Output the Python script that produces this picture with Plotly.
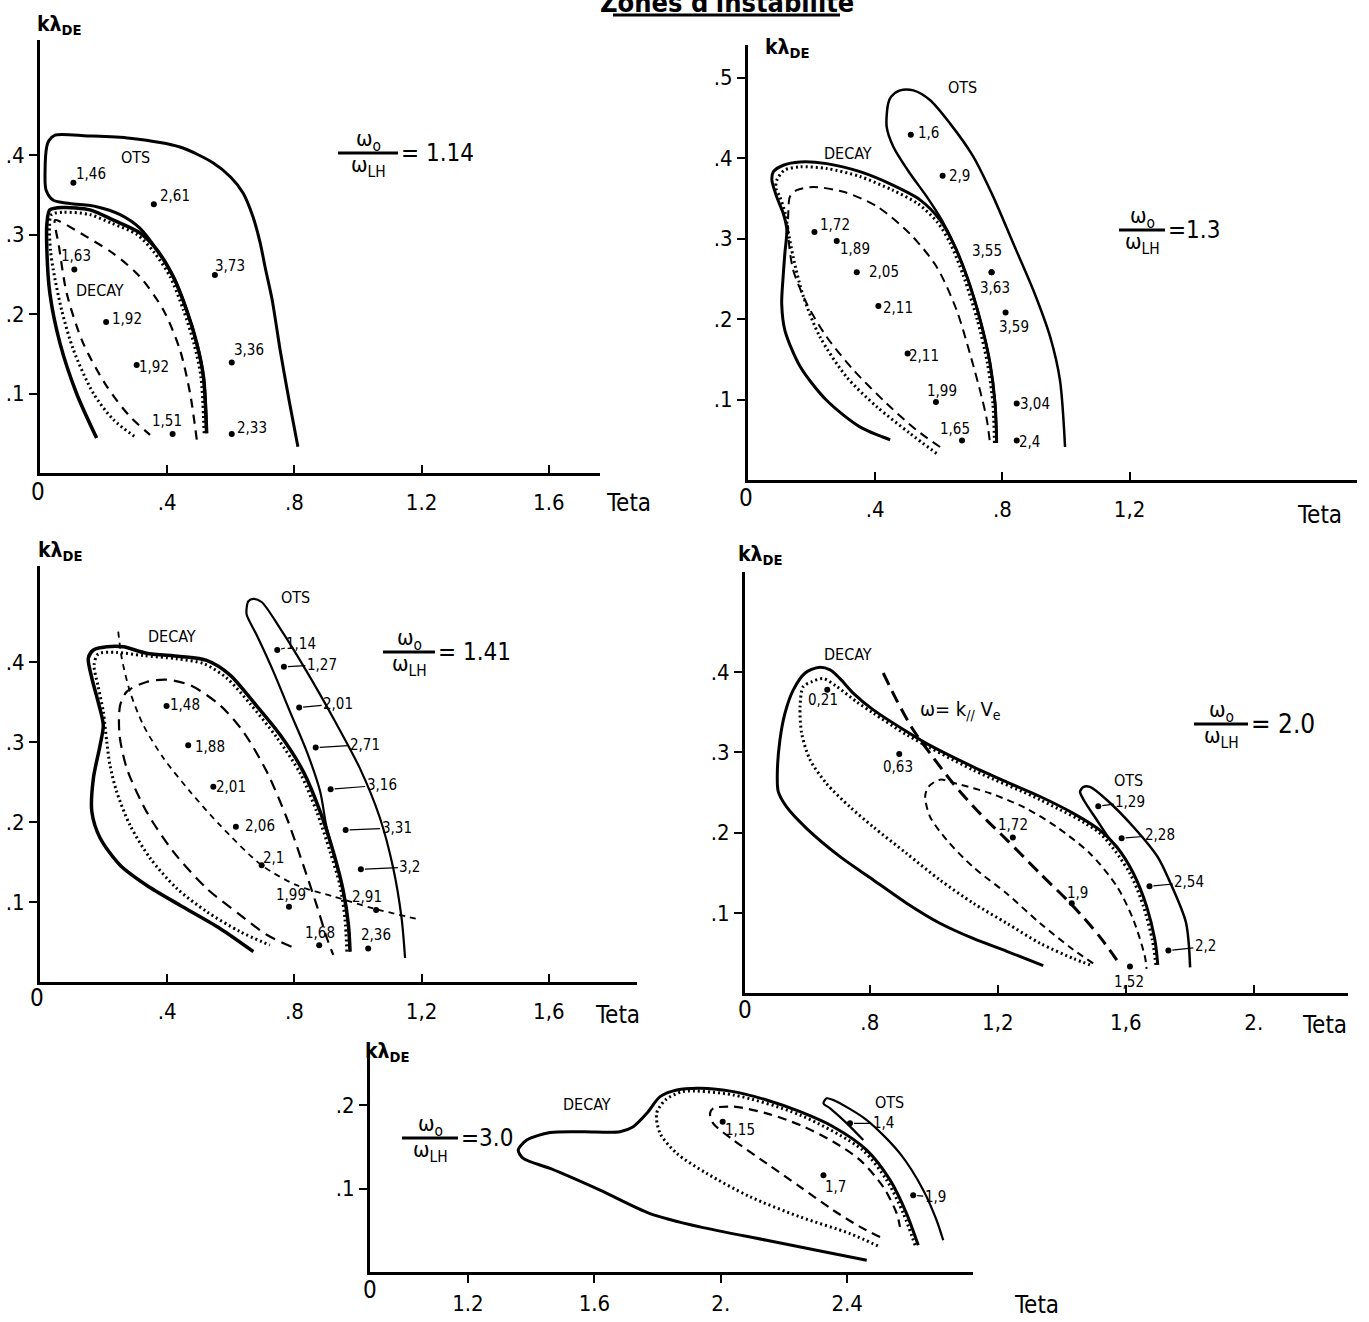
import plotly.graph_objects as go

W, H = 1369, 1322
FONT = "DejaVu Sans Condensed, DejaVu Sans, Liberation Sans Narrow, sans-serif"

# ---------------- DATA (Teta, k lambda_DE) ----------------
# Panel 1 : w0/wLH = 1.14
p1_ots_x = [0.811,0.783,0.755,0.730,0.710,0.692,0.670,0.639,0.600,0.545,0.440,0.283,0.150,0.047,0.028,0.021,0.016,0.019,0.042,0.094,0.178,0.252,0.314,0.367,0.419,0.461,0.493,0.514,0.524]
p1_ots_y = [0.033,0.092,0.155,0.218,0.255,0.290,0.322,0.352,0.372,0.390,0.410,0.421,0.424,0.425,0.418,0.410,0.381,0.356,0.343,0.339,0.335,0.325,0.308,0.281,0.247,0.205,0.163,0.121,0.050]
p1_decay_x = [0.178,0.115,0.063,0.031,0.021,0.022,0.031,0.073,0.157,0.231,0.314,0.367,0.419,0.461,0.493,0.514,0.524]
p1_decay_y = [0.044,0.100,0.163,0.226,0.289,0.315,0.331,0.334,0.331,0.318,0.302,0.281,0.247,0.205,0.163,0.121,0.050]
p1_dot_x = [0.516,0.506,0.484,0.451,0.409,0.358,0.305,0.226,0.157,0.073,0.036,0.030,0.033,0.042,0.068,0.105,0.168,0.231,0.304]
p1_dot_y = [0.050,0.121,0.163,0.205,0.247,0.278,0.300,0.314,0.325,0.328,0.325,0.310,0.280,0.255,0.205,0.155,0.100,0.067,0.044]
p1_dash_x = [0.493,0.472,0.440,0.388,0.314,0.231,0.126,0.065,0.047,0.050,0.058,0.084,0.136,0.210,0.283,0.346]
p1_dash_y = [0.042,0.100,0.155,0.205,0.247,0.276,0.302,0.316,0.318,0.305,0.289,0.226,0.163,0.109,0.071,0.048]
p1_pt_x = [0.105,0.358,0.108,0.550,0.208,0.304,0.603,0.417,0.603]
p1_pt_y = [0.365,0.338,0.256,0.249,0.190,0.136,0.139,0.049,0.049]
p1_pt_lab = ["1,46","2,61","1,63","3,73","1,92","1,92","3,36","1,51","2,33"]

# Panel 2 : w0/wLH = 1.3
p2_ots_x = [0.997,0.981,0.950,0.897,0.834,0.771,0.708,0.635,0.572,0.520,0.478,0.450,0.441,0.436,0.457,0.509,0.562,0.609,0.646,0.688,0.730,0.761,0.777,0.782]
p2_ots_y = [0.041,0.124,0.178,0.236,0.294,0.352,0.402,0.443,0.472,0.484,0.484,0.476,0.468,0.439,0.414,0.381,0.352,0.323,0.294,0.253,0.199,0.145,0.095,0.046]
p2_decay_x = [0.447,0.352,0.247,0.164,0.116,0.106,0.110,0.116,0.122,0.111,0.090,0.075,0.080,0.111,0.164,0.247,0.352,0.457,0.541,0.604,0.646,0.688,0.730,0.761,0.777,0.782]
p2_decay_y = [0.050,0.066,0.099,0.141,0.186,0.219,0.250,0.282,0.311,0.331,0.352,0.373,0.383,0.391,0.395,0.393,0.383,0.366,0.348,0.323,0.294,0.253,0.199,0.145,0.095,0.046]
p2_dot_x = [0.775,0.770,0.753,0.721,0.678,0.636,0.596,0.535,0.455,0.352,0.247,0.164,0.115,0.090,0.088,0.100,0.118,0.126,0.142,0.174,0.226,0.310,0.405,0.509,0.593]
p2_dot_y = [0.046,0.095,0.145,0.199,0.253,0.294,0.320,0.343,0.360,0.377,0.387,0.389,0.385,0.372,0.362,0.352,0.330,0.310,0.277,0.228,0.178,0.128,0.091,0.058,0.033]
p2_dash_x = [0.604,0.530,0.436,0.331,0.247,0.185,0.142,0.127,0.127,0.132,0.153,0.205,0.300,0.405,0.509,0.593,0.656,0.698,0.735,0.751,0.761]
p2_dash_y = [0.041,0.062,0.095,0.137,0.178,0.219,0.261,0.302,0.335,0.352,0.360,0.364,0.358,0.340,0.306,0.265,0.211,0.157,0.103,0.075,0.046]
p2_pt_x = [0.512,0.612,0.209,0.279,0.342,0.410,0.502,0.591,0.673,0.766,0.766,0.810,0.845,0.845]
p2_pt_y = [0.429,0.378,0.308,0.297,0.258,0.216,0.157,0.097,0.049,0.258,0.258,0.208,0.095,0.049]
p2_pt_lab = ["1,6","2,9","1,72","1,89","2,05","2,11","2,11","1,99","1,65","3,55","3,63","3,59","3,04","2,4"]

# Panel 3 : w0/wLH = 1.41
p3_ots_x = [1.148,1.137,1.111,1.069,1.006,0.922,0.839,0.755,0.697,0.671,0.655,0.650,0.650,0.681,0.734,0.786,0.839,0.881,0.900,0.922,0.954,0.970,0.975]
p3_ots_y = [0.030,0.080,0.142,0.205,0.267,0.330,0.388,0.442,0.475,0.479,0.476,0.468,0.459,0.434,0.388,0.338,0.288,0.238,0.196,0.163,0.113,0.071,0.038]
p3_decay_x = [0.671,0.566,0.440,0.335,0.252,0.189,0.163,0.168,0.189,0.199,0.183,0.163,0.152,0.168,0.210,0.262,0.335,0.440,0.524,0.597,0.671,0.755,0.828,0.881,0.922,0.954,0.970,0.975]
p3_decay_y = [0.038,0.067,0.096,0.121,0.146,0.180,0.213,0.255,0.296,0.321,0.350,0.380,0.405,0.415,0.419,0.419,0.411,0.407,0.402,0.384,0.350,0.309,0.263,0.213,0.163,0.113,0.071,0.038]
p3_dot_x = [0.965,0.959,0.943,0.912,0.870,0.818,0.744,0.660,0.587,0.514,0.430,0.325,0.241,0.183,0.170,0.182,0.199,0.210,0.220,0.241,0.283,0.346,0.430,0.524,0.629,0.723]
p3_dot_y = [0.038,0.079,0.121,0.163,0.213,0.261,0.306,0.348,0.380,0.398,0.404,0.408,0.412,0.410,0.396,0.371,0.338,0.300,0.271,0.238,0.196,0.155,0.117,0.088,0.063,0.046]
p3_dash_x = [0.791,0.713,0.629,0.524,0.419,0.335,0.273,0.250,0.252,0.273,0.335,0.398,0.472,0.566,0.639,0.713,0.776,0.828,0.870,0.902,0.922]
p3_dash_y = [0.044,0.059,0.084,0.117,0.163,0.213,0.267,0.309,0.346,0.363,0.375,0.378,0.371,0.346,0.313,0.263,0.205,0.146,0.096,0.055,0.034]
p3_wline_x = [0.246,0.257,0.283,0.325,0.388,0.472,0.566,0.697,0.807,0.922,1.048,1.195]
p3_wline_y = [0.438,0.405,0.363,0.321,0.280,0.238,0.196,0.146,0.121,0.107,0.092,0.078]
p3_pt_x = [0.398,0.466,0.545,0.616,0.697,0.783,0.878,0.746,0.767,0.815,0.867,0.914,0.961,1.009,1.057,1.032]
p3_pt_y = [0.345,0.296,0.244,0.194,0.146,0.094,0.046,0.415,0.394,0.343,0.293,0.241,0.190,0.141,0.090,0.042]
p3_pt_lab = ["1,48","1,88","2,01","2,06","2,1","1,99","1,68","1,14","1,27","2,01","2,71","3,16","3,31","3,2","2,91","2,36"]

# Panel 4 : w0/wLH = 2.0
p4_decay_x = [1.342,1.228,1.123,1.019,0.915,0.811,0.707,0.603,0.540,0.514,0.511,0.519,0.535,0.561,0.598,0.639,0.676,0.707,0.748,0.811,0.915,0.978,1.123,1.228,1.332,1.436,1.519,1.572,1.624,1.665,1.691,1.700]
p4_decay_y = [0.034,0.052,0.068,0.087,0.112,0.141,0.170,0.205,0.232,0.251,0.274,0.315,0.349,0.378,0.399,0.406,0.403,0.392,0.374,0.353,0.326,0.311,0.282,0.263,0.245,0.224,0.203,0.182,0.149,0.108,0.066,0.035]
p4_dot_x = [1.694,1.683,1.655,1.613,1.519,1.332,1.123,0.915,0.811,0.759,0.697,0.655,0.618,0.592,0.582,0.587,0.613,0.665,0.738,0.811,0.915,1.019,1.123,1.228,1.332,1.436,1.488]
p4_dot_y = [0.035,0.066,0.108,0.149,0.199,0.241,0.278,0.322,0.349,0.363,0.382,0.392,0.388,0.382,0.357,0.324,0.291,0.261,0.232,0.207,0.174,0.141,0.112,0.087,0.062,0.043,0.035]
p4_dash_x = [1.498,1.436,1.332,1.228,1.123,1.040,0.988,0.973,0.983,1.019,1.072,1.176,1.280,1.384,1.488,1.572,1.624,1.660,1.665]
p4_dash_y = [0.037,0.054,0.087,0.124,0.157,0.191,0.220,0.245,0.257,0.266,0.261,0.249,0.232,0.207,0.174,0.133,0.091,0.045,0.030]
p4_wline_x = [0.842,0.884,0.936,0.988,1.061,1.144,1.228,1.332,1.436,1.519,1.572]
p4_wline_y = [0.399,0.365,0.328,0.299,0.261,0.224,0.191,0.149,0.108,0.070,0.041]
p4_ots_x = [1.801,1.788,1.734,1.699,1.624,1.540,1.488,1.468,1.457,1.468,1.509,1.551,1.572]
p4_ots_y = [0.032,0.088,0.142,0.170,0.207,0.241,0.257,0.257,0.251,0.241,0.216,0.191,0.182]
p4_pt_x = [0.667,0.892,1.247,1.431,1.613,1.514,1.587,1.674,1.733]
p4_pt_y = [0.378,0.298,0.194,0.112,0.033,0.233,0.193,0.133,0.053]
p4_pt_lab = ["0,21","0,63","1,72","1,9","1,52","1,29","2,28","2,54","2,2"]

# Panel 5 : w0/wLH = 3.0
p5_decay_x = [2.462,2.303,2.145,1.934,1.776,1.618,1.460,1.375,1.359,1.386,1.460,1.565,1.681,1.723,1.766,1.808,1.861,1.934,2.040,2.145,2.251,2.356,2.462,2.536,2.588,2.625]
p5_decay_y = [0.014,0.026,0.038,0.054,0.070,0.098,0.124,0.136,0.146,0.158,0.167,0.168,0.168,0.174,0.190,0.210,0.218,0.220,0.216,0.206,0.192,0.174,0.146,0.110,0.070,0.032]
p5_dot_x = [2.615,2.578,2.525,2.449,2.251,2.040,1.880,1.825,1.797,1.808,1.861,1.956,2.093,2.251,2.409,2.504]
p5_dot_y = [0.032,0.070,0.110,0.146,0.188,0.212,0.216,0.206,0.190,0.166,0.142,0.118,0.090,0.066,0.046,0.030]
p5_dash_x = [2.504,2.441,2.356,2.251,2.145,2.040,1.976,1.966,1.976,2.040,2.145,2.251,2.356,2.441,2.514,2.557,2.567]
p5_dash_y = [0.042,0.054,0.074,0.102,0.130,0.158,0.178,0.190,0.196,0.198,0.190,0.176,0.156,0.134,0.102,0.070,0.054]
p5_ots_x = [2.704,2.683,2.641,2.567,2.462,2.356,2.335,2.325,2.346,2.399,2.451]
p5_ots_y = [0.038,0.062,0.098,0.142,0.182,0.206,0.208,0.202,0.196,0.178,0.158]
p5_pt_x = [2.006,2.325,2.409,2.609]
p5_pt_y = [0.180,0.116,0.178,0.092]
p5_pt_lab = ["1,15","1,7","1,4","1,9"]

# tick labels
p1_xt, p1_xtl = [0.4, 0.8, 1.2, 1.6], [".4", ".8", "1.2", "1.6"]
p1_yt, p1_ytl = [0.1, 0.2, 0.3, 0.4], [".1", ".2", ".3", ".4"]
p2_xt, p2_xtl = [0.4, 0.8, 1.2], [".4", ".8", "1,2"]
p2_yt, p2_ytl = [0.1, 0.2, 0.3, 0.4, 0.5], [".1", ".2", ".3", ".4", ".5"]
p3_xt, p3_xtl = [0.4, 0.8, 1.2, 1.6], [".4", ".8", "1,2", "1,6"]
p3_yt, p3_ytl = [0.1, 0.2, 0.3, 0.4], [".1", ".2", ".3", ".4"]
p4_xt, p4_xtl = [0.8, 1.2, 1.6, 2.0], [".8", "1,2", "1,6", "2."]
p4_yt, p4_ytl = [0.1, 0.2, 0.3, 0.4], [".1", ".2", ".3", ".4"]
p5_xt, p5_xtl = [1.2, 1.6, 2.0, 2.4, 2.8], ["1.2", "1.6", "2.", "2.4", "2.8"]
p5_yt, p5_ytl = [0.1, 0.2], [".1", ".2"]

# ---------------- LAYOUT / STYLE ----------------
# (origin px x, origin px y, data x at origin, px per unit x, px per unit y, x end px, y top px, tick dir)
panel_geom = {
    1: (40, 473, 0.0, 318, 795, 600, 40, "inside"),
    2: (748, 480, 0.0, 318, 805, 1357, 45, "inside"),
    3: (40, 982, 0.0, 318, 800, 637, 566, "inside"),
    4: (745, 993, 0.41, 320, 802, 1348, 572, "inside"),
    5: (370, 1272, 0.89, 316, 835, 973, 1049, "outside"),
}
ticks = {1: (p1_xt, p1_xtl, p1_yt, p1_ytl), 2: (p2_xt, p2_xtl, p2_yt, p2_ytl),
         3: (p3_xt, p3_xtl, p3_yt, p3_ytl), 4: (p4_xt, p4_xtl, p4_yt, p4_ytl),
         5: (p5_xt, p5_xtl, p5_yt, p5_ytl)}

curves = [
    # panel, x, y, width, dash
    (1, p1_ots_x, p1_ots_y, 3, "solid"),
    (1, p1_decay_x, p1_decay_y, 3.5, "solid"),
    (1, p1_dot_x, p1_dot_y, 3, "2px,3px"),
    (1, p1_dash_x, p1_dash_y, 2.2, "9px,7px"),
    (2, p2_ots_x, p2_ots_y, 2.5, "solid"),
    (2, p2_decay_x, p2_decay_y, 3, "solid"),
    (2, p2_dot_x, p2_dot_y, 3, "2px,3px"),
    (2, p2_dash_x, p2_dash_y, 2, "9px,6px"),
    (3, p3_ots_x, p3_ots_y, 2.2, "solid"),
    (3, p3_decay_x, p3_decay_y, 3.5, "solid"),
    (3, p3_dot_x, p3_dot_y, 3, "2px,3px"),
    (3, p3_dash_x, p3_dash_y, 2.2, "11px,7px"),
    (3, p3_wline_x, p3_wline_y, 1.8, "6px,5px"),
    (4, p4_decay_x, p4_decay_y, 3, "solid"),
    (4, p4_dot_x, p4_dot_y, 3, "2px,3px"),
    (4, p4_dash_x, p4_dash_y, 2, "7px,5px"),
    (4, p4_wline_x, p4_wline_y, 3, "13px,7px"),
    (4, p4_ots_x, p4_ots_y, 2.5, "solid"),
    (5, p5_decay_x, p5_decay_y, 3, "solid"),
    (5, p5_dot_x, p5_dot_y, 3, "2px,3px"),
    (5, p5_dash_x, p5_dash_y, 2.2, "9px,6px"),
    (5, p5_ots_x, p5_ots_y, 2.2, "solid"),
]

points = {1: (p1_pt_x, p1_pt_y, p1_pt_lab), 2: (p2_pt_x, p2_pt_y, p2_pt_lab),
          3: (p3_pt_x, p3_pt_y, p3_pt_lab), 4: (p4_pt_x, p4_pt_y, p4_pt_lab),
          5: (p5_pt_x, p5_pt_y, p5_pt_lab)}
# label offsets in px (dx, dy-down, leader line?)
label_pos = {
    1: [(18,-9,0),(21,-8,0),(2,-13,0),(15,-9,0),(21,-3,0),(17,2,0),(17,-12,0),(-6,-13,0),(20,-6,0)],
    2: [(18,-2,0),(17,0,0),(21,-7,0),(18,8,0),(27,0,0),(20,2,0),(16,2,0),(6,-11,0),(-7,-12,0),(-5,-21,0),(3,16,0),(8,14,0),(18,0,0),(13,1,0)],
    3: [(18,-1,0),(22,2,0),(18,0,0),(24,-1,0),(12,-7,0),(2,-12,0),(1,-12,0),
        (24,-6,1),(38,-2,1),(39,-4,1),(49,-3,1),(51,-4,1),(51,-2,1),(49,-2,1),(-9,-13,0),(8,-13,0)],
    4: [(-4,10,0),(-1,13,0),(0,-12,0),(6,-10,0),(-1,15,0),(32,-4,1),(38,-3,1),(40,-4,1),(37,-4,1)],
    5: [(17,8,0),(12,12,0),(33,0,1),(22,2,1)],
}

fig = go.Figure()
layout = dict(width=W, height=H, margin=dict(l=0, r=0, t=0, b=0, pad=0, autoexpand=False),
              paper_bgcolor="white", plot_bgcolor="rgba(0,0,0,0)",
              showlegend=False, font=dict(family=FONT, color="black"))

def ax_name(i, k):
    return k if i == 1 else f"{k}{i}"

for i, (ox, oy, x0, sx, sy, xe, yt, tdir) in panel_geom.items():
    xt, xtl, ytv, ytl = ticks[i]
    layout["xaxis" if i == 1 else f"xaxis{i}"] = dict(
        domain=[ox / W, xe / W], range=[x0, x0 + (xe - ox) / sx], anchor=ax_name(i, "y"),
        showline=True, linewidth=3, linecolor="black", showgrid=False, zeroline=False,
        ticks=tdir, ticklen=8, tickwidth=2, tickcolor="black", automargin=False,
        tickvals=xt, ticktext=xtl, tickfont=dict(size=22, family=FONT),
        ticklabelstandoff=8 if tdir == "inside" else 2, fixedrange=True)
    layout["yaxis" if i == 1 else f"yaxis{i}"] = dict(
        domain=[1 - oy / H, 1 - yt / H], range=[0, (oy - yt) / sy], anchor=ax_name(i, "x"),
        showline=True, linewidth=3, linecolor="black", showgrid=False, zeroline=False,
        ticks="outside", ticklen=8, tickwidth=2, tickcolor="black", automargin=False,
        tickvals=ytv, ticktext=ytl, tickfont=dict(size=22, family=FONT), fixedrange=True)

for (i, xs, ys, w, d) in curves:
    fig.add_trace(go.Scatter(x=xs, y=ys, mode="lines", xaxis=ax_name(i, "x"), yaxis=ax_name(i, "y"),
                             line=dict(color="black", width=w, dash=d, shape="spline", smoothing=0.8),
                             hoverinfo="skip"))

annotations = []
for i, (px_, py_, labs) in points.items():
    fig.add_trace(go.Scatter(x=px_, y=py_, mode="markers", xaxis=ax_name(i, "x"), yaxis=ax_name(i, "y"),
                             marker=dict(color="black", size=6), hoverinfo="skip"))
    for (x, y, t, (dx, dy, lead)) in zip(px_, py_, labs, label_pos[i]):
        a = dict(x=x, y=y, xref=ax_name(i, "x"), yref=ax_name(i, "y"), text=t,
                 font=dict(size=15, family=FONT))
        if lead:
            a.update(showarrow=True, ax=dx, ay=dy, arrowhead=0, arrowwidth=1.2,
                     arrowcolor="black", standoff=4)
        else:
            a.update(showarrow=False, xshift=dx, yshift=-dy, xanchor="center", yanchor="middle")
        annotations.append(a)

def ptxt(text, x, y, size, xanchor="center", yanchor="middle"):
    annotations.append(dict(text=text, x=x / W, y=1 - y / H, xref="paper", yref="paper",
                            showarrow=False, xanchor=xanchor, yanchor=yanchor,
                            borderpad=0, font=dict(size=size, family=FONT)))

# region names
for t, x, y in [("OTS", 135, 157), ("DECAY", 100, 290), ("OTS", 962, 88), ("DECAY", 848, 153),
                ("OTS", 295, 597), ("DECAY", 172, 636), ("DECAY", 848, 655), ("OTS", 1128, 780),
                ("DECAY", 587, 1104), ("OTS", 889, 1102)]:
    ptxt(t, x, y, 16)
ptxt("ω= k<sub>//</sub> V<sub>e</sub>", 960, 710, 20)

# axis titles
for x, y in [(59, 25), (787, 48), (60, 551), (760, 555), (387, 1052)]:
    ptxt("<b>kλ<sub>DE</sub></b>", x, y, 21)
for x, y in [(628, 503), (1319, 515), (617, 1015), (1324, 1025), (1036, 1305)]:
    ptxt("Teta", x, y, 24)
for x, y in [(38, 492), (746, 498), (37, 998), (745, 1010), (370, 1290)]:
    ptxt("0", x, y, 24)

# frequency ratio fractions
shapes = []
for cx, by, hw, val, vs in [(368, 153, 30, "= 1.14", 24), (1142, 230, 23, "=1.3", 24),
                            (409, 652, 26, "= 1.41", 24), (1221, 724, 27, "= 2.0", 26),
                            (430, 1138, 28, "=3.0", 24)]:
    ptxt("ω<sub>o</sub>", cx, by + 3, 22, yanchor="bottom")
    ptxt("ω<sub>LH</sub>", cx, by - 2, 22, yanchor="top")
    ptxt(val, cx + hw + 2, by, vs, xanchor="left")
    shapes.append(dict(type="line", xref="paper", yref="paper", x0=(cx - hw) / W, x1=(cx + hw) / W,
                       y0=1 - by / H, y1=1 - by / H, line=dict(color="black", width=3)))

# title (cut off at the top in the original scan)
ptxt("<b>Zones d'instabilité</b>", 727, 19, 27, yanchor="bottom")
shapes.append(dict(type="line", xref="paper", yref="paper", x0=613 / W, x1=840 / W,
                   y0=1 - 15 / H, y1=1 - 15 / H, line=dict(color="black", width=3)))

layout["annotations"] = annotations
layout["shapes"] = shapes
fig.update_layout(**layout)
fig.write_html("out.html", config={"displayModeBar": False, "staticPlot": True},
               post_script="document.body.style.margin='0';document.body.style.overflow='hidden';")
